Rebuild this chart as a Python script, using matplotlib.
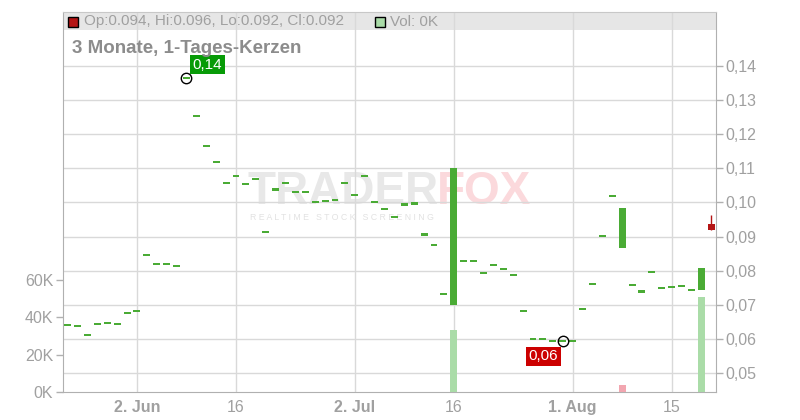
import numpy as np
import matplotlib.pyplot as plt
from matplotlib.patches import Rectangle

plt.rcParams['font.family'] = ['Liberation Sans', 'DejaVu Sans']

# trading day index, 0 = 2. Jun
days = list(range(-7, 59))

closes = [0.0640, 0.0637, 0.0611, 0.0643, 0.0646, 0.0643, 0.0675, 0.0683,
          0.0845, 0.0819, 0.0819, 0.0813, 0.1364, 0.1253, 0.1165, 0.1118,
          0.1056, 0.1077, 0.1053, 0.1068, 0.0912, 0.1038, 0.1056, 0.1030,
          0.1030, 0.1000, 0.1003, 0.1006, 0.1056, 0.1021, 0.1077, 0.1000,
          0.0980, 0.0956, 0.0994, 0.0997, 0.0906, 0.0874, 0.0733, 0.1101,
          0.0828, 0.0828, 0.0792, 0.0816, 0.0804, 0.0786, 0.0682, 0.0599,
          0.0599, 0.0594, 0.0594, 0.0594, 0.0687, 0.0760, 0.0903, 0.1018,
          0.0984, 0.0758, 0.0739, 0.0795, 0.0748, 0.0751, 0.0755, 0.0743,
          0.0809, 0.0919]
opens = list(closes)
opens[days.index(32)] = 0.0700
opens[days.index(49)] = 0.0867
opens[days.index(57)] = 0.0742
opens[days.index(58)] = 0.0938
highs = [max(o, c) for o, c in zip(opens, closes)]
highs[days.index(58)] = 0.0963
lows = [min(o, c) for o, c in zip(opens, closes)]

# volume in thousands
volumes = [0.0] * len(days)
volumes[days.index(32)] = 33.0
volumes[days.index(49)] = 3.7
volumes[days.index(57)] = 50.7
vol_up = [True] * len(days)
vol_up[days.index(49)] = False

tick_days = [0, 10, 22, 32, 44, 54]
tick_labels = ['2. Jun', '16', '2. Jul', '16', '1. Aug', '15']
tick_bold = [True, False, True, False, True, False]

price_ticks = [0.05, 0.06, 0.07, 0.08, 0.09, 0.10, 0.11, 0.12, 0.13, 0.14]
vol_ticks = [0, 20, 40, 60]

green = '#4aab35'
red = '#b41414'
grid_c = '#d9d9d9'
text_c = '#a0a0a0'

fig = plt.figure(figsize=(8, 4.2), dpi=100)
ax = fig.add_axes([63 / 800, 28 / 420, 653 / 800, 380 / 420])
ax.set_xlim(-7.47, 58.48)
ax.set_ylim(0.04443, 0.15584)
ax.set_axisbelow(True)

# volume axis (left)
axv = ax.twinx()
axv.set_ylim(0, 202.7)
axv.yaxis.tick_left()
ax.yaxis.tick_right()

# header band
ax.add_patch(Rectangle((0, 362 / 380), 1, 18 / 380, transform=ax.transAxes,
                       facecolor='#e6e6e6', edgecolor='none', zorder=0.2))

ax.set_yticks(price_ticks)
ax.set_yticklabels([f'{p:.2f}'.replace('.', ',') for p in price_ticks])
ax.set_xticks(tick_days)
ax.set_xticklabels(tick_labels)
for lab, b in zip(ax.get_xticklabels(), tick_bold):
    if b:
        lab.set_fontweight('bold')
ax.grid(True, color=grid_c, linewidth=1)
ax.tick_params(axis='y', colors='#b0b0b0', labelcolor=text_c, labelsize=11.5,
               length=5, width=1, pad=2)
ax.tick_params(axis='x', length=0, labelcolor=text_c, labelsize=11.5, pad=6)
for s in ['left', 'right', 'bottom']:
    ax.spines[s].set_color('#b0b0b0')
ax.spines['top'].set_color('#c8c8c8')

# watermark
ax.text(0.283, 0.526, 'TRADER', transform=ax.transAxes, fontsize=33,
        fontweight='bold', color='#e8e8e8', ha='left', va='center', zorder=0.4)
ax.text(0.572, 0.526, 'FOX', transform=ax.transAxes, fontsize=33,
        fontweight='bold', color='#fbd9dc', ha='left', va='center', zorder=0.4)
ax.text(0.287, 0.458, 'R E A L T I M E   S T O C K   S C R E E N I N G',
        transform=ax.transAxes, fontsize=6.3, color='#e2e2e2', ha='left',
        va='center', zorder=0.4)

# candles
w = 0.7
for d, o, c, h, l in zip(days, opens, closes, highs, lows):
    col = green if c >= o else red
    body = max(abs(c - o), 0.0006)
    mid = (o + c) / 2
    if h > max(o, c) or l < min(o, c):
        ax.vlines(d, l, h, color=col, linewidth=1, zorder=2)
    ax.bar(d, body, width=w, bottom=mid - body / 2, color=col, zorder=3)

# high / low markers
i_hi = days.index(5)
i_lo = days.index(43)
ax.plot(days[i_hi], closes[i_hi], 'o', mfc='none', mec='black', ms=7.5, mew=1, zorder=4)
ax.plot(days[i_lo], closes[i_lo], 'o', mfc='none', mec='black', ms=7.5, mew=1, zorder=4)
ax.text(7.12, 0.1404, '0,14', color='white', fontsize=11, ha='center', va='center',
        bbox=dict(boxstyle='square,pad=0.18', facecolor='#079b07', edgecolor='none'), zorder=5)
ax.text(41.06, 0.0549, '0,06', color='white', fontsize=11, ha='center', va='center',
        bbox=dict(boxstyle='square,pad=0.18', facecolor='#cc0000', edgecolor='none'), zorder=5)

# volume bars
axv.bar(days, volumes, width=w, color=['#aadca8' if u else '#f2a6b0' for u in vol_up], zorder=1)
axv.set_yticks(vol_ticks)
axv.set_yticklabels([f'{v}K' for v in vol_ticks])
axv.tick_params(axis='y', colors='#b0b0b0', labelcolor=text_c, labelsize=11.5,
                length=5, width=1, pad=2)
for s in axv.spines.values():
    s.set_visible(False)

# header texts
fig.add_artist(Rectangle((68 / 800, (420 - 27) / 420), 10 / 800, 10 / 420,
                         facecolor=red, edgecolor='black', linewidth=1))
fig.text(84 / 800, (420 - 21.5) / 420, 'Op:0.094, Hi:0.096, Lo:0.092, Cl:0.092',
         fontsize=11, color=text_c, va='center')
fig.add_artist(Rectangle((375 / 800, (420 - 27) / 420), 10 / 800, 10 / 420,
                         facecolor='#aadca8', edgecolor='black', linewidth=1))
fig.text(390 / 800, (420 - 21.5) / 420, 'Vol: 0K', fontsize=11, color=text_c, va='center')
fig.text(72 / 800, (420 - 53) / 420, '3 Monate, 1-Tages-Kerzen', fontsize=13.5,
         fontweight='bold', color='#8c8c8c', va='baseline')

fig.savefig('out.png', dpi=100)
